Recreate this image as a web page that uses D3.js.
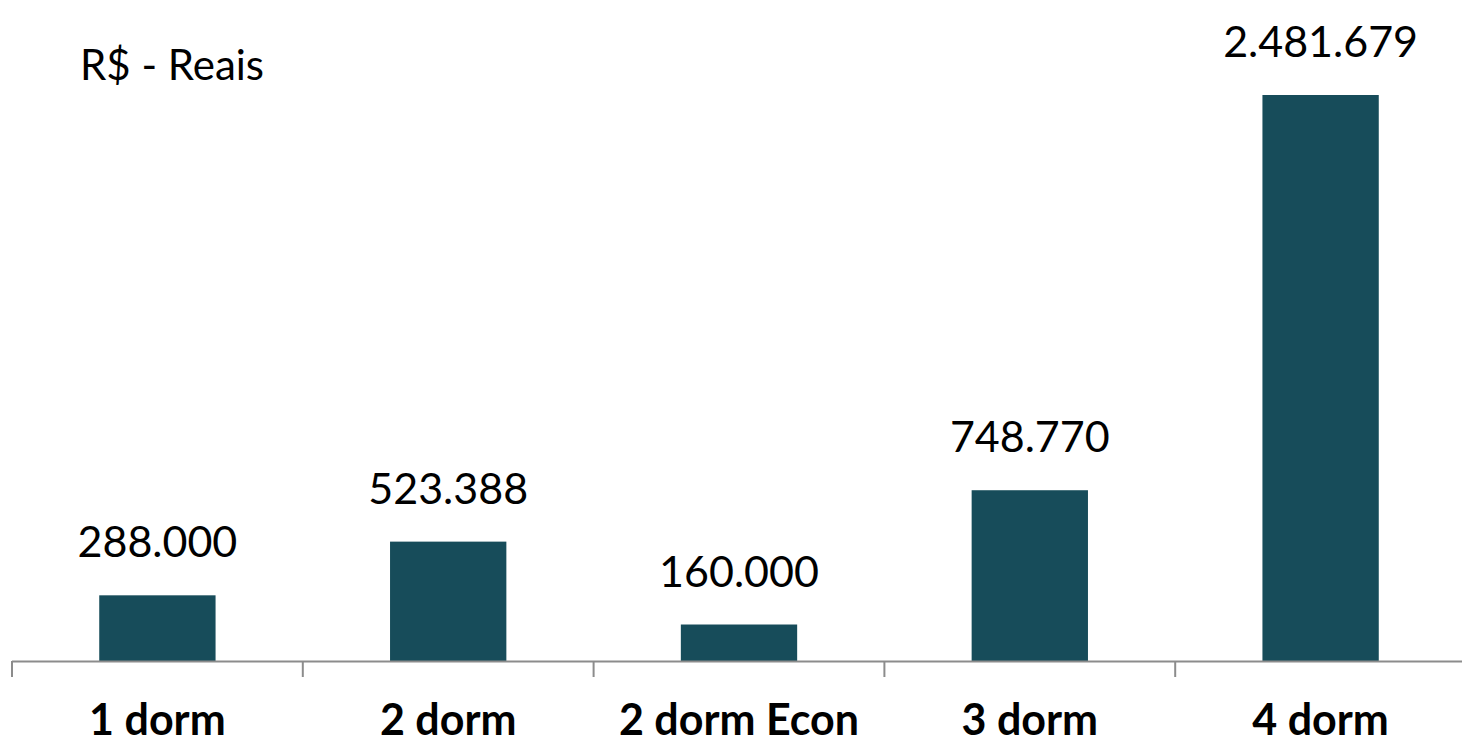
<html>
<head>
  <script src="https://d3js.org/d3.v7.min.js"></script>
  <style>
    body { margin: 0; background: #fff; }
    text { font-family: Lato, "Open Sans", sans-serif; fill: #000; }
    .value_label { font-size: 43px; }
    .cat_label { font-size: 43px; font-weight: 700; }
    #unit_label { font-size: 42px; }
  </style>
</head>
<body>
  <svg id="chart" width="1462" height="741"></svg>
  <script>
    // data
    const categories = ["1 dorm", "2 dorm", "2 dorm Econ", "3 dorm", "4 dorm"];
    const values = [288000, 523388, 160000, 748770, 2481679];
    const valueLabels = ["288.000", "523.388", "160.000", "748.770", "2.481.679"];
    const unitText = "R$ - Reais";

    const svg = d3.select("#chart");
    const baseline = 661;
    const barColor = "#174c5a";
    const axisColor = "#8c8c8c";

    const x = d3.scaleBand()
      .domain(categories)
      .range([12, 1466])
      .paddingInner(0.6)
      .paddingOuter(0.3);

    const y = d3.scaleLinear()
      .domain([0, d3.max(values)])
      .range([baseline, 95]);

    const rows = categories.map((c, i) => ({ cat: c, value: values[i], label: valueLabels[i] }));

    // bars
    svg.selectAll("rect.bar")
      .data(rows)
      .enter()
      .append("rect")
      .attr("class", "bar")
      .attr("x", d => x(d.cat))
      .attr("y", d => y(d.value))
      .attr("width", x.bandwidth())
      .attr("height", d => baseline - y(d.value))
      .attr("fill", barColor);

    // value labels above bars
    svg.selectAll("text.value_label")
      .data(rows)
      .enter()
      .append("text")
      .attr("class", "value_label")
      .attr("x", d => x(d.cat) + x.bandwidth() / 2)
      .attr("y", d => y(d.value) - 38)
      .attr("text-anchor", "middle")
      .text(d => d.label);

    // category axis: line plus ticks on the band boundaries
    const step = x.step();
    const boundaries = categories.map(c => x(c) - step * 0.3);
    boundaries.push(x(categories[categories.length - 1]) + x.bandwidth() + step * 0.3);

    const axis = svg.append("g").attr("id", "x_axis");
    axis.append("line")
      .attr("x1", boundaries[0])
      .attr("x2", boundaries[boundaries.length - 1])
      .attr("y1", baseline + 0.5)
      .attr("y2", baseline + 0.5)
      .attr("stroke", axisColor)
      .attr("stroke-width", 2);

    axis.selectAll("line.tick")
      .data(boundaries)
      .enter()
      .append("line")
      .attr("class", "tick")
      .attr("x1", d => d)
      .attr("x2", d => d)
      .attr("y1", baseline)
      .attr("y2", baseline + 16)
      .attr("stroke", axisColor)
      .attr("stroke-width", 2);

    axis.selectAll("text.cat_label")
      .data(categories)
      .enter()
      .append("text")
      .attr("class", "cat_label")
      .attr("x", d => x(d) + x.bandwidth() / 2)
      .attr("y", 735)
      .attr("text-anchor", "middle")
      .text(d => d);

    // unit label
    svg.append("text")
      .attr("id", "unit_label")
      .attr("x", 80)
      .attr("y", 80)
      .text(unitText);
  </script>
</body>
</html>
